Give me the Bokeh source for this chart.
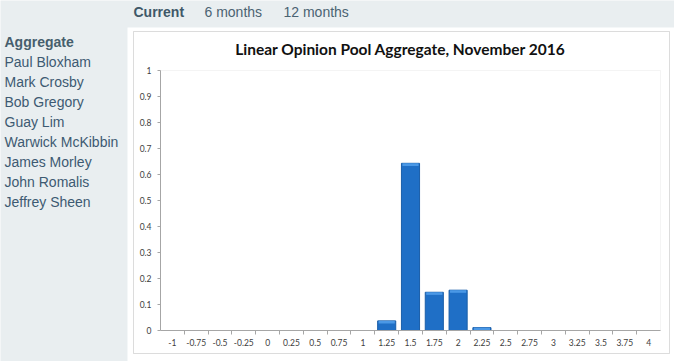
from bokeh.plotting import figure
from bokeh.models import (FixedTicker, Label, BoxAnnotation, Range1d, ColumnDataSource,
                          LinearAxis)
from bokeh.embed import file_html
from bokeh.resources import INLINE

# ---- data ----
tabs = ["Current", "6 months", "12 months"]
panelists = ["Aggregate", "Paul Bloxham", "Mark Crosby", "Bob Gregory", "Guay Lim",
             "Warwick McKibbin", "James Morley", "John Romalis", "Jeffrey Sheen"]
bins = [-1, -0.75, -0.5, -0.25, 0, 0.25, 0.5, 0.75, 1, 1.25, 1.5, 1.75, 2,
        2.25, 2.5, 2.75, 3, 3.25, 3.5, 3.75, 4]
bin_labels = ["-1", "-0.75", "-0.5", "-0.25", "0", "0.25", "0.5", "0.75", "1", "1.25",
              "1.5", "1.75", "2", "2.25", "2.5", "2.75", "3", "3.25", "3.5", "3.75", "4"]
probs = [0, 0, 0, 0, 0, 0, 0, 0, 0, 0.037, 0.643, 0.147, 0.155, 0.011,
         0, 0, 0, 0, 0, 0, 0]
y_ticks = [0, 0.1, 0.2, 0.3, 0.4, 0.5, 0.6, 0.7, 0.8, 0.9, 1]
y_labels = ["0", "0.1", "0.2", "0.3", "0.4", "0.5", "0.6", "0.7", "0.8", "0.9", "1"]
title = "Linear Opinion Pool Aggregate, November 2016"

# ---- layout (pixels from top-left of the page) ----
W, H = 674, 361
PAGE_BG = "#e9eef0"
PA_L, PA_R, PA_T, PA_B = 160, 660, 70, 330      # chart plot area
half = 0.125
x0, x1 = bins[0] - half, bins[-1] + half
y0, y1 = 0.0, 1.0
sx = (x1 - x0) / (PA_R - PA_L)
sy = (y1 - y0) / (PA_B - PA_T)

p = figure(width=W, height=H, output_backend="svg", toolbar_location=None,
           x_range=Range1d(0, W), y_range=Range1d(H, 0),
           x_axis_type=None, y_axis_type=None, min_border=0)
p.extra_x_ranges = {"bins": Range1d(x0 - PA_L * sx, x1 + (W - PA_R) * sx)}
p.extra_y_ranges = {"prob": Range1d(y0 - (H - PA_B) * sy, y1 + PA_T * sy)}
p.border_fill_color = PAGE_BG
p.background_fill_color = PAGE_BG
p.outline_line_color = None
p.xgrid.visible = False
p.ygrid.visible = False

# white panel, chart box and plot area frame
p.add_layout(BoxAnnotation(left=127, right=W, top=27, bottom=H, fill_color="white",
                           fill_alpha=1, line_alpha=0, level="underlay"))
p.add_layout(BoxAnnotation(left=133, right=669, top=31, bottom=353, fill_alpha=0,
                           line_color="#8c8c8c", line_width=1, level="underlay"))
p.add_layout(BoxAnnotation(left=x0, right=x1, bottom=y0, top=y1,
                           x_range_name="bins", y_range_name="prob",
                           fill_alpha=0, line_color="#d9d9d9", line_width=1, level="underlay"))

# bars (with a lighter bevel band on top, as in the original)
nz = [i for i, v in enumerate(probs) if v > 0]
bx = [bins[i] for i in nz]
bt = [probs[i] for i in nz]
src = ColumnDataSource(dict(x=bx, top=bt, hb=[max(0.0, t - 0.01) for t in bt]))
p.vbar(x="x", top="top", bottom=0, width=0.19, source=src, x_range_name="bins",
       y_range_name="prob", fill_color="#1f6fc6", line_color="#1a5ea8")
p.vbar(x="x", top="top", bottom="hb", width=0.17, source=src, x_range_name="bins",
       y_range_name="prob", fill_color="#4a98e6", line_color=None)

# x axis
xa = LinearAxis(x_range_name="bins", y_range_name="prob", fixed_location=0,
                bounds=(x0, x1))
xa.ticker = FixedTicker(ticks=bins, minor_ticks=[b + half for b in bins[:-1]])
xa.major_label_overrides = {b: l for b, l in zip(bins, bin_labels)}
xa.major_tick_out = 0
xa.major_tick_in = 0
xa.minor_tick_out = 4
xa.minor_tick_in = 0
xa.minor_tick_line_color = "#a6a6a6"
xa.axis_line_color = "#a6a6a6"
xa.major_label_text_font = "Lato"
xa.major_label_text_font_size = "8.5px"
xa.major_label_text_color = "#404040"
xa.major_label_standoff = 4
p.add_layout(xa, "below")

# y axis
ya = LinearAxis(x_range_name="bins", y_range_name="prob", fixed_location=x0,
                bounds=(y0, y1))
ya.ticker = FixedTicker(ticks=y_ticks, minor_ticks=[])
ya.major_label_overrides = {t: l for t, l in zip(y_ticks, y_labels)}
ya.major_tick_out = 3
ya.major_tick_in = 0
ya.major_tick_line_color = "#a6a6a6"
ya.axis_line_color = "#a6a6a6"
ya.major_label_text_font = "Lato"
ya.major_label_text_font_size = "8.5px"
ya.major_label_text_color = "#404040"
ya.major_label_standoff = 6
p.add_layout(ya, "left")

# chart title
p.add_layout(Label(x=400, y=48, text=title,
                   text_font="Lato", text_font_style="bold", text_font_size="15.5px",
                   text_color="#111111", text_align="center", text_baseline="middle"))

# tabs
tab_x = [133, 204, 283]
for i, t in enumerate(tabs):
    p.add_layout(Label(x=tab_x[i], y=11, text=t,
                       text_font="Liberation Sans", text_font_size="14px",
                       text_font_style="bold" if i == 0 else "normal",
                       text_color="#3f5868" if i == 0 else "#4b6372",
                       text_baseline="middle"))

# sidebar
for i, n in enumerate(panelists):
    p.add_layout(Label(x=4, y=41 + 20 * i, text=n,
                       text_font="Liberation Sans", text_font_size="14px",
                       text_font_style="bold" if i == 0 else "normal",
                       text_color="#465e6d" if i == 0 else "#3d5a72",
                       text_baseline="middle"))

open("out.html", "w").write(file_html(p, INLINE))
